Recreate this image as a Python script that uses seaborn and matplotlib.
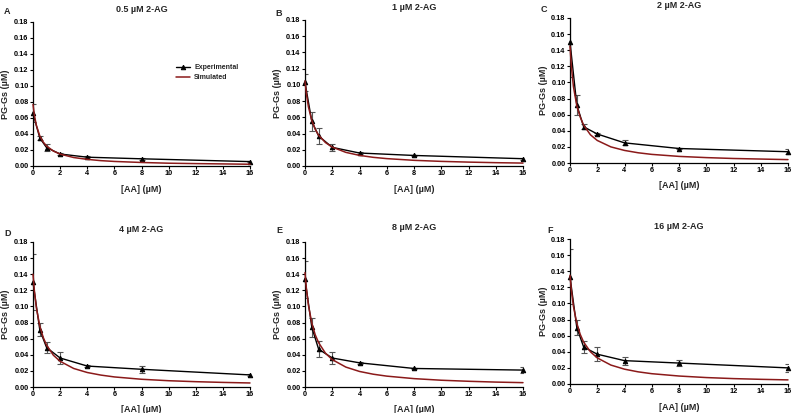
import numpy as np
import pandas as pd
import matplotlib
matplotlib.use("Agg")
import matplotlib.pyplot as plt
import seaborn as sns

sns.set_style("ticks")
plt.rcParams['font.family'] = ['Liberation Sans', 'DejaVu Sans']

# experimental points
aa_exp = [0, 0.5, 1, 2, 4, 8, 16]
exp_A = [0.066, 0.035, 0.023, 0.015, 0.011, 0.009, 0.0055]
err_A = [0.011, 0.002, 0.004, 0.001, 0.001, 0.001, 0.001]
exp_B = [0.103, 0.055, 0.037, 0.023, 0.016, 0.013, 0.009]
err_B = [0.011, 0.012, 0.010, 0.004, 0.001, 0.001, 0.001]
exp_C = [0.150, 0.072, 0.045, 0.036, 0.025, 0.018, 0.014]
err_C = [0.043, 0.012, 0.003, 0.001, 0.003, 0.001, 0.003]
exp_D = [0.130, 0.071, 0.049, 0.036, 0.026, 0.022, 0.015]
err_D = [0.035, 0.008, 0.007, 0.008, 0.001, 0.004, 0.001]
exp_E = [0.134, 0.074, 0.047, 0.036, 0.030, 0.023, 0.021]
err_E = [0.023, 0.012, 0.010, 0.008, 0.001, 0.001, 0.004]
exp_F = [0.133, 0.070, 0.046, 0.037, 0.029, 0.026, 0.020]
err_F = [0.034, 0.009, 0.007, 0.009, 0.005, 0.004, 0.005]

# simulated curves
aa_sim = [0, 0.1, 0.25, 0.5, 0.75, 1, 1.5, 2, 3, 4, 5, 6, 8, 10, 12, 14, 16]
sim_A = [0.077, 0.0637, 0.0506, 0.0377, 0.030, 0.025, 0.0187, 0.0149, 0.0106, 0.0083,
         0.0067, 0.0057, 0.0044, 0.0035, 0.0030, 0.0026, 0.0022]
sim_B = [0.105, 0.0894, 0.073, 0.056, 0.0453, 0.038, 0.0289, 0.0233, 0.0168, 0.0131,
         0.0107, 0.0091, 0.0070, 0.0057, 0.0048, 0.0041, 0.0036]
sim_C = [0.145, 0.120, 0.095, 0.071, 0.057, 0.047, 0.035, 0.028, 0.020, 0.0156,
         0.0127, 0.0107, 0.0082, 0.0067, 0.0056, 0.0049, 0.0042]
sim_D = [0.140, 0.1197, 0.098, 0.0758, 0.0617, 0.052, 0.0395, 0.0319, 0.0230, 0.0180,
         0.0148, 0.0125, 0.0096, 0.0078, 0.0066, 0.0057, 0.0050]
sim_E = [0.142, 0.1225, 0.1017, 0.0792, 0.0648, 0.055, 0.042, 0.034, 0.0247, 0.0193,
         0.0159, 0.0135, 0.0104, 0.0084, 0.0071, 0.0061, 0.0054]
sim_F = [0.135, 0.1164, 0.0967, 0.0753, 0.0616, 0.052, 0.040, 0.0324, 0.0235, 0.0184,
         0.0151, 0.0128, 0.0099, 0.0080, 0.0067, 0.0058, 0.0051]

titles = ["0.5 µM 2-AG", "1 µM 2-AG", "2 µM 2-AG", "4 µM 2-AG", "8 µM 2-AG", "16 µM 2-AG"]
letters = ["A", "B", "C", "D", "E", "F"]
exps = [exp_A, exp_B, exp_C, exp_D, exp_E, exp_F]
errs = [err_A, err_B, err_C, err_D, err_E, err_F]
sims = [sim_A, sim_B, sim_C, sim_D, sim_E, sim_F]

W, H = 793, 413
# axes boxes in pixels: left, top, right, bottom
boxes = [(33, 22, 250, 166), (305, 20, 523, 166), (570, 18, 788, 163),
         (33, 242, 250, 387), (305, 242, 523, 387), (570, 239, 788, 384)]
letter_pos = [(4, 11), (275, 13), (541, 10), (4, 233), (276, 231), (547, 230)]
title_y = [9, 8, 6, 229, 228, 227]

red = "#8b1a1a"

fig = plt.figure(figsize=(W / 100, H / 100), dpi=100)
for i in range(6):
    l, t, r, b = boxes[i]
    ax = fig.add_axes([l / W, 1 - b / H, (r - l) / W, (b - t) / H])
    ax.errorbar(aa_exp, exps[i], yerr=errs[i], fmt="none", ecolor="#555555",
                elinewidth=0.8, capsize=2.5, capthick=0.8, zorder=2)
    sns.lineplot(x=aa_exp, y=exps[i], ax=ax, color="black", marker="^",
                 markersize=3.2, markeredgecolor="black", linewidth=1.0,
                 label="Experimental", clip_on=False, zorder=3)
    sns.lineplot(x=aa_sim, y=sims[i], ax=ax, color=red, linewidth=1.1,
                 label="Simulated", clip_on=False, zorder=4)
    ax.set_xlim(0, 16)
    ax.set_ylim(0, 0.18)
    ax.set_xticks(np.arange(0, 17, 2))
    ax.set_yticks(np.arange(0, 0.181, 0.02))
    ax.set_yticklabels([f"{v:.2f}" for v in np.arange(0, 0.181, 0.02)])
    ax.tick_params(labelsize=5.3, length=2, width=0.8, pad=1.2, colors="black")
    for lab in ax.get_xticklabels() + ax.get_yticklabels():
        lab.set_fontweight("bold")
    sns.despine(ax=ax)
    for s in ["left", "bottom"]:
        ax.spines[s].set_linewidth(0.9)
        ax.spines[s].set_color("black")
    ax.set_xlabel("[AA] (µM)", fontsize=6.5, fontweight="bold")
    ax.set_ylabel("PG-Gs (µM)", fontsize=6.5, fontweight="bold")
    ax.xaxis.set_label_coords(0.5, -23 / (b - t))
    ax.yaxis.set_label_coords(-27 / (r - l), 0.5)
    ax.xaxis.label.set_va("center")
    ax.yaxis.label.set_va("center")
    fig.text((l + r) / 2 / W, 1 - title_y[i] / H, titles[i], fontsize=6.5,
             fontweight="bold", ha="center", va="center")
    if i == 0:
        ax.legend(loc="upper left", bbox_to_anchor=(0.63, 0.75), frameon=False,
                  handlelength=2.0, labelspacing=0.45, handletextpad=0.6,
                  prop={"weight": "bold", "size": 5})
    else:
        ax.get_legend().remove()
    fig.text(letter_pos[i][0] / W, 1 - letter_pos[i][1] / H, letters[i],
             fontsize=6.5, fontweight="bold", va="center", ha="left")

fig.savefig("out.png", dpi=100)
